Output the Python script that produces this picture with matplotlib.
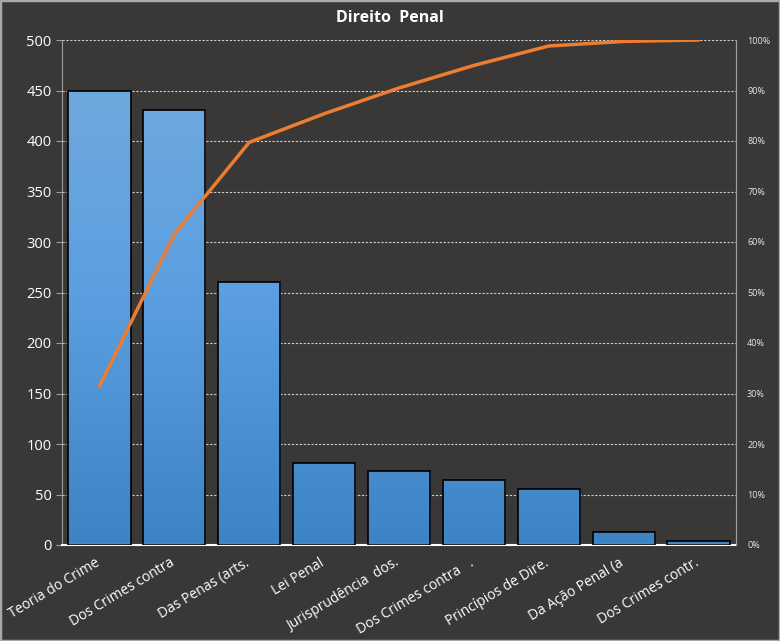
import matplotlib
matplotlib.use("Agg")
import matplotlib.pyplot as plt
import numpy as np
from matplotlib.colors import LinearSegmentedColormap
from matplotlib.ticker import FuncFormatter
from matplotlib.transforms import ScaledTranslation

categories = ["Teoria do Crime", "Dos Crimes contra", "Das Penas (arts.", "Lei Penal",
              "Jurisprudência  dos.", "Dos Crimes contra   .", "Princípios de Dire.",
              "Da Ação Penal (a", "Dos Crimes contr."]
values = [450, 431, 260, 81, 73, 64, 55, 13, 4]
cum_pct = list(np.cumsum(values) / np.sum(values))

plt.rcParams['font.family'] = ['Open Sans', 'DejaVu Sans']
bg = "#3a3836"
fig = plt.figure(figsize=(7.8, 6.41), dpi=100, facecolor=bg)
fig.patches.append(plt.Rectangle((0, 0), 1, 1, transform=fig.transFigure,
                                 fill=False, edgecolor="#a8a8a8", linewidth=2.5))
ax = fig.add_axes([62 / 780, 1 - 545 / 641, 674 / 780, 505 / 641])
ax.set_facecolor(bg)

x = np.arange(len(categories))
w = 0.83
bars = ax.bar(x, values, width=w, facecolor="none", edgecolor="black", linewidth=1.2, zorder=3)
cmap = LinearSegmentedColormap.from_list("g", ["#3d84c4", "#5b9fe0", "#75abde"])
grad = np.linspace(0, 1, 256).reshape(-1, 1)
for b in bars:
    im = ax.imshow(grad, extent=[b.get_x(), b.get_x() + b.get_width(), 0, 500],
                   origin="lower", aspect="auto", cmap=cmap, zorder=2)
    im.set_clip_path(b)

ax.set_xlim(-0.5, len(categories) - 0.5)
ax.set_ylim(0, 500)
ax.set_yticks(range(0, 501, 50))
ax.yaxis.grid(True, linestyle=(0, (2, 1.5)), color="#d0d0d0", linewidth=0.8, zorder=1)
ax.set_axisbelow(True)
ax.tick_params(axis='y', colors="#a0a0a0", labelcolor="white", labelsize=10.5, length=4, width=0.8)
ax.tick_params(axis='x', length=0, labelcolor="white", labelsize=10, pad=4)
ax.set_xticks(x)
ax.set_xticklabels(categories, rotation=31, ha="right", rotation_mode="anchor")
for lab in ax.get_xticklabels():
    lab.set_transform(lab.get_transform() + ScaledTranslation(-0.05, -0.05, fig.dpi_scale_trans))
ax.spines["top"].set_visible(False)
ax.spines["left"].set_color("#a0a0a0")
ax.spines["bottom"].set_color("white")
ax.spines["bottom"].set_linewidth(1.5)
ax.spines["right"].set_color("#a0a0a0")

ax2 = ax.twinx()
ax2.plot(x, cum_pct, color="#ed7d31", linewidth=2.5, zorder=5, solid_capstyle="round")
ax2.set_ylim(0, 1)
ax2.set_yticks(np.linspace(0, 1, 11))
ax2.yaxis.set_major_formatter(FuncFormatter(lambda v, p: f"{v*100:.0f}%"))
ax2.tick_params(axis='y', length=0, labelcolor="#e8e8e8", labelsize=6.5, pad=8)
for s in ["top", "left", "bottom"]:
    ax2.spines[s].set_visible(False)
ax2.spines["right"].set_color("#a0a0a0")

fig.text(0.5, 0.972, "Direito  Penal", ha="center", va="center", color="white",
         fontsize=11.5, fontweight="bold")

fig.savefig("out.png", dpi=100, facecolor=bg)
